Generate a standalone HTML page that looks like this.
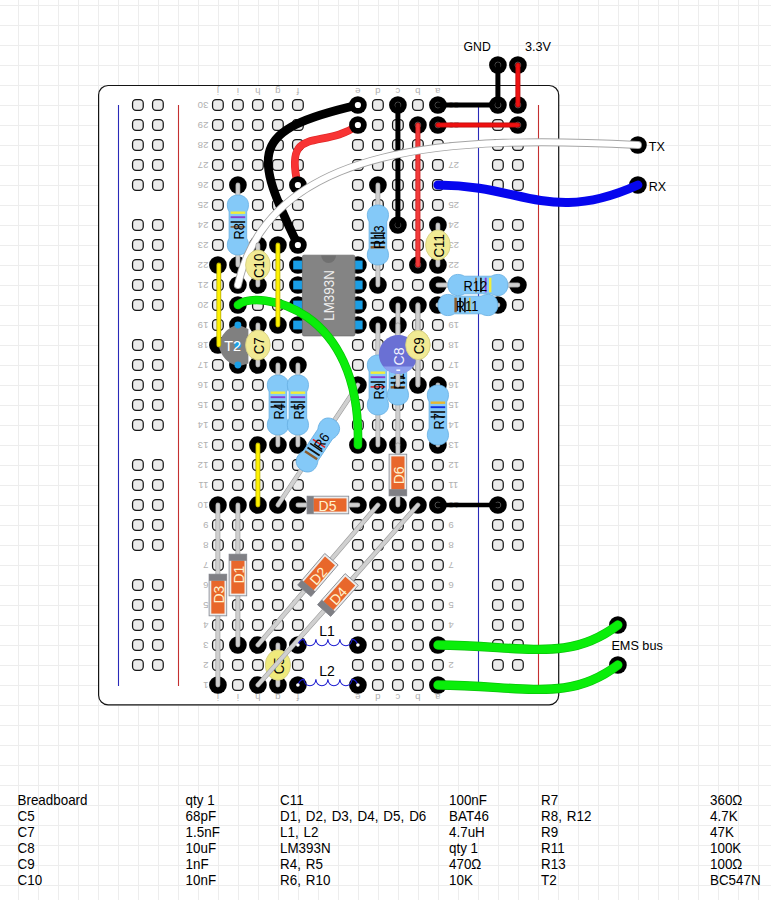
<!DOCTYPE html>
<html><head><meta charset="utf-8"><title>Breadboard</title>
<style>html,body{margin:0;padding:0;background:#fff;}body{width:771px;height:900px;overflow:hidden;font-family:"Liberation Sans",sans-serif;}svg{display:block}</style>
</head><body>
<svg width="771" height="900" viewBox="0 0 771 900">
<rect width="771" height="900" fill="#ffffff"/>
<path d="M18.5 0V900M38.5 0V900M58.5 0V900M78.5 0V900M98.5 0V900M118.5 0V900M138.5 0V900M158.5 0V900M178.5 0V900M198.5 0V900M218.5 0V900M238.5 0V900M258.5 0V900M278.5 0V900M298.5 0V900M318.5 0V900M338.5 0V900M358.5 0V900M378.5 0V900M398.5 0V900M418.5 0V900M438.5 0V900M458.5 0V900M478.5 0V900M498.5 0V900M518.5 0V900M538.5 0V900M558.5 0V900M578.5 0V900M598.5 0V900M618.5 0V900M638.5 0V900M658.5 0V900M678.5 0V900M698.5 0V900M718.5 0V900M738.5 0V900M758.5 0V900M778.5 0V900M0 5.5H771M0 25.5H771M0 45.5H771M0 65.5H771M0 85.5H771M0 105.5H771M0 125.5H771M0 145.5H771M0 165.5H771M0 185.5H771M0 205.5H771M0 225.5H771M0 245.5H771M0 265.5H771M0 285.5H771M0 305.5H771M0 325.5H771M0 345.5H771M0 365.5H771M0 385.5H771M0 405.5H771M0 425.5H771M0 445.5H771M0 465.5H771M0 485.5H771M0 505.5H771M0 525.5H771M0 545.5H771M0 565.5H771M0 585.5H771M0 605.5H771M0 625.5H771M0 645.5H771M0 665.5H771M0 685.5H771M0 705.5H771M0 725.5H771M0 745.5H771M0 765.5H771M0 785.5H771M0 805.5H771M0 825.5H771M0 845.5H771M0 865.5H771M0 885.5H771" stroke="#ededed" stroke-width="1" fill="none" shape-rendering="crispEdges"/>
<rect x="98.6" y="85.5" width="460.1" height="619.3" rx="9.5" ry="9.5" fill="#ffffff" stroke="#141414" stroke-width="1.2"/>
<path d="M118.5 105V686M478.5 105V686" stroke="#2a2ab8" stroke-width="1.1" fill="none"/>
<path d="M178.5 105V686M538.5 105V686" stroke="#c43030" stroke-width="1.1" fill="none"/>
<g transform="translate(-0.6 -0.5)">
<g fill="#ebebeb" stroke="#161616" stroke-width="1.25"><rect x="133.15" y="660.15" width="10.7" height="10.7" rx="3.5"/><rect x="133.15" y="640.15" width="10.7" height="10.7" rx="3.5"/><rect x="133.15" y="620.15" width="10.7" height="10.7" rx="3.5"/><rect x="133.15" y="600.15" width="10.7" height="10.7" rx="3.5"/><rect x="133.15" y="580.15" width="10.7" height="10.7" rx="3.5"/><rect x="133.15" y="540.15" width="10.7" height="10.7" rx="3.5"/><rect x="133.15" y="520.15" width="10.7" height="10.7" rx="3.5"/><rect x="133.15" y="500.15" width="10.7" height="10.7" rx="3.5"/><rect x="133.15" y="480.15" width="10.7" height="10.7" rx="3.5"/><rect x="133.15" y="460.15" width="10.7" height="10.7" rx="3.5"/><rect x="133.15" y="420.15" width="10.7" height="10.7" rx="3.5"/><rect x="133.15" y="400.15" width="10.7" height="10.7" rx="3.5"/><rect x="133.15" y="380.15" width="10.7" height="10.7" rx="3.5"/><rect x="133.15" y="360.15" width="10.7" height="10.7" rx="3.5"/><rect x="133.15" y="340.15" width="10.7" height="10.7" rx="3.5"/><rect x="133.15" y="300.15" width="10.7" height="10.7" rx="3.5"/><rect x="133.15" y="280.15" width="10.7" height="10.7" rx="3.5"/><rect x="133.15" y="260.15" width="10.7" height="10.7" rx="3.5"/><rect x="133.15" y="240.15" width="10.7" height="10.7" rx="3.5"/><rect x="133.15" y="220.15" width="10.7" height="10.7" rx="3.5"/><rect x="133.15" y="180.15" width="10.7" height="10.7" rx="3.5"/><rect x="133.15" y="160.15" width="10.7" height="10.7" rx="3.5"/><rect x="133.15" y="140.15" width="10.7" height="10.7" rx="3.5"/><rect x="133.15" y="120.15" width="10.7" height="10.7" rx="3.5"/><rect x="133.15" y="100.15" width="10.7" height="10.7" rx="3.5"/><rect x="153.15" y="660.15" width="10.7" height="10.7" rx="3.5"/><rect x="153.15" y="640.15" width="10.7" height="10.7" rx="3.5"/><rect x="153.15" y="620.15" width="10.7" height="10.7" rx="3.5"/><rect x="153.15" y="600.15" width="10.7" height="10.7" rx="3.5"/><rect x="153.15" y="580.15" width="10.7" height="10.7" rx="3.5"/><rect x="153.15" y="540.15" width="10.7" height="10.7" rx="3.5"/><rect x="153.15" y="520.15" width="10.7" height="10.7" rx="3.5"/><rect x="153.15" y="500.15" width="10.7" height="10.7" rx="3.5"/><rect x="153.15" y="480.15" width="10.7" height="10.7" rx="3.5"/><rect x="153.15" y="460.15" width="10.7" height="10.7" rx="3.5"/><rect x="153.15" y="420.15" width="10.7" height="10.7" rx="3.5"/><rect x="153.15" y="400.15" width="10.7" height="10.7" rx="3.5"/><rect x="153.15" y="380.15" width="10.7" height="10.7" rx="3.5"/><rect x="153.15" y="360.15" width="10.7" height="10.7" rx="3.5"/><rect x="153.15" y="340.15" width="10.7" height="10.7" rx="3.5"/><rect x="153.15" y="300.15" width="10.7" height="10.7" rx="3.5"/><rect x="153.15" y="280.15" width="10.7" height="10.7" rx="3.5"/><rect x="153.15" y="260.15" width="10.7" height="10.7" rx="3.5"/><rect x="153.15" y="240.15" width="10.7" height="10.7" rx="3.5"/><rect x="153.15" y="220.15" width="10.7" height="10.7" rx="3.5"/><rect x="153.15" y="180.15" width="10.7" height="10.7" rx="3.5"/><rect x="153.15" y="160.15" width="10.7" height="10.7" rx="3.5"/><rect x="153.15" y="140.15" width="10.7" height="10.7" rx="3.5"/><rect x="153.15" y="120.15" width="10.7" height="10.7" rx="3.5"/><rect x="153.15" y="100.15" width="10.7" height="10.7" rx="3.5"/><rect x="493.15" y="660.15" width="10.7" height="10.7" rx="3.5"/><rect x="493.15" y="640.15" width="10.7" height="10.7" rx="3.5"/><rect x="493.15" y="620.15" width="10.7" height="10.7" rx="3.5"/><rect x="493.15" y="600.15" width="10.7" height="10.7" rx="3.5"/><rect x="493.15" y="580.15" width="10.7" height="10.7" rx="3.5"/><rect x="493.15" y="540.15" width="10.7" height="10.7" rx="3.5"/><rect x="493.15" y="520.15" width="10.7" height="10.7" rx="3.5"/><rect x="493.15" y="500.15" width="10.7" height="10.7" rx="3.5"/><rect x="493.15" y="480.15" width="10.7" height="10.7" rx="3.5"/><rect x="493.15" y="460.15" width="10.7" height="10.7" rx="3.5"/><rect x="493.15" y="420.15" width="10.7" height="10.7" rx="3.5"/><rect x="493.15" y="400.15" width="10.7" height="10.7" rx="3.5"/><rect x="493.15" y="380.15" width="10.7" height="10.7" rx="3.5"/><rect x="493.15" y="360.15" width="10.7" height="10.7" rx="3.5"/><rect x="493.15" y="340.15" width="10.7" height="10.7" rx="3.5"/><rect x="493.15" y="300.15" width="10.7" height="10.7" rx="3.5"/><rect x="493.15" y="280.15" width="10.7" height="10.7" rx="3.5"/><rect x="493.15" y="260.15" width="10.7" height="10.7" rx="3.5"/><rect x="493.15" y="240.15" width="10.7" height="10.7" rx="3.5"/><rect x="493.15" y="220.15" width="10.7" height="10.7" rx="3.5"/><rect x="493.15" y="180.15" width="10.7" height="10.7" rx="3.5"/><rect x="493.15" y="160.15" width="10.7" height="10.7" rx="3.5"/><rect x="493.15" y="140.15" width="10.7" height="10.7" rx="3.5"/><rect x="493.15" y="120.15" width="10.7" height="10.7" rx="3.5"/><rect x="493.15" y="100.15" width="10.7" height="10.7" rx="3.5"/><rect x="513.15" y="660.15" width="10.7" height="10.7" rx="3.5"/><rect x="513.15" y="640.15" width="10.7" height="10.7" rx="3.5"/><rect x="513.15" y="620.15" width="10.7" height="10.7" rx="3.5"/><rect x="513.15" y="600.15" width="10.7" height="10.7" rx="3.5"/><rect x="513.15" y="580.15" width="10.7" height="10.7" rx="3.5"/><rect x="513.15" y="540.15" width="10.7" height="10.7" rx="3.5"/><rect x="513.15" y="520.15" width="10.7" height="10.7" rx="3.5"/><rect x="513.15" y="500.15" width="10.7" height="10.7" rx="3.5"/><rect x="513.15" y="480.15" width="10.7" height="10.7" rx="3.5"/><rect x="513.15" y="460.15" width="10.7" height="10.7" rx="3.5"/><rect x="513.15" y="420.15" width="10.7" height="10.7" rx="3.5"/><rect x="513.15" y="400.15" width="10.7" height="10.7" rx="3.5"/><rect x="513.15" y="380.15" width="10.7" height="10.7" rx="3.5"/><rect x="513.15" y="360.15" width="10.7" height="10.7" rx="3.5"/><rect x="513.15" y="340.15" width="10.7" height="10.7" rx="3.5"/><rect x="513.15" y="300.15" width="10.7" height="10.7" rx="3.5"/><rect x="513.15" y="280.15" width="10.7" height="10.7" rx="3.5"/><rect x="513.15" y="260.15" width="10.7" height="10.7" rx="3.5"/><rect x="513.15" y="240.15" width="10.7" height="10.7" rx="3.5"/><rect x="513.15" y="220.15" width="10.7" height="10.7" rx="3.5"/><rect x="513.15" y="180.15" width="10.7" height="10.7" rx="3.5"/><rect x="513.15" y="160.15" width="10.7" height="10.7" rx="3.5"/><rect x="513.15" y="140.15" width="10.7" height="10.7" rx="3.5"/><rect x="513.15" y="120.15" width="10.7" height="10.7" rx="3.5"/><rect x="513.15" y="100.15" width="10.7" height="10.7" rx="3.5"/><rect x="213.15" y="680.15" width="10.7" height="10.7" rx="3.5"/><rect x="213.15" y="660.15" width="10.7" height="10.7" rx="3.5"/><rect x="213.15" y="640.15" width="10.7" height="10.7" rx="3.5"/><rect x="213.15" y="620.15" width="10.7" height="10.7" rx="3.5"/><rect x="213.15" y="600.15" width="10.7" height="10.7" rx="3.5"/><rect x="213.15" y="580.15" width="10.7" height="10.7" rx="3.5"/><rect x="213.15" y="560.15" width="10.7" height="10.7" rx="3.5"/><rect x="213.15" y="540.15" width="10.7" height="10.7" rx="3.5"/><rect x="213.15" y="520.15" width="10.7" height="10.7" rx="3.5"/><rect x="213.15" y="500.15" width="10.7" height="10.7" rx="3.5"/><rect x="213.15" y="480.15" width="10.7" height="10.7" rx="3.5"/><rect x="213.15" y="460.15" width="10.7" height="10.7" rx="3.5"/><rect x="213.15" y="440.15" width="10.7" height="10.7" rx="3.5"/><rect x="213.15" y="420.15" width="10.7" height="10.7" rx="3.5"/><rect x="213.15" y="400.15" width="10.7" height="10.7" rx="3.5"/><rect x="213.15" y="380.15" width="10.7" height="10.7" rx="3.5"/><rect x="213.15" y="360.15" width="10.7" height="10.7" rx="3.5"/><rect x="213.15" y="340.15" width="10.7" height="10.7" rx="3.5"/><rect x="213.15" y="320.15" width="10.7" height="10.7" rx="3.5"/><rect x="213.15" y="300.15" width="10.7" height="10.7" rx="3.5"/><rect x="213.15" y="280.15" width="10.7" height="10.7" rx="3.5"/><rect x="213.15" y="260.15" width="10.7" height="10.7" rx="3.5"/><rect x="213.15" y="240.15" width="10.7" height="10.7" rx="3.5"/><rect x="213.15" y="220.15" width="10.7" height="10.7" rx="3.5"/><rect x="213.15" y="200.15" width="10.7" height="10.7" rx="3.5"/><rect x="213.15" y="180.15" width="10.7" height="10.7" rx="3.5"/><rect x="213.15" y="160.15" width="10.7" height="10.7" rx="3.5"/><rect x="213.15" y="140.15" width="10.7" height="10.7" rx="3.5"/><rect x="213.15" y="120.15" width="10.7" height="10.7" rx="3.5"/><rect x="213.15" y="100.15" width="10.7" height="10.7" rx="3.5"/><rect x="233.15" y="680.15" width="10.7" height="10.7" rx="3.5"/><rect x="233.15" y="660.15" width="10.7" height="10.7" rx="3.5"/><rect x="233.15" y="640.15" width="10.7" height="10.7" rx="3.5"/><rect x="233.15" y="620.15" width="10.7" height="10.7" rx="3.5"/><rect x="233.15" y="600.15" width="10.7" height="10.7" rx="3.5"/><rect x="233.15" y="580.15" width="10.7" height="10.7" rx="3.5"/><rect x="233.15" y="560.15" width="10.7" height="10.7" rx="3.5"/><rect x="233.15" y="540.15" width="10.7" height="10.7" rx="3.5"/><rect x="233.15" y="520.15" width="10.7" height="10.7" rx="3.5"/><rect x="233.15" y="500.15" width="10.7" height="10.7" rx="3.5"/><rect x="233.15" y="480.15" width="10.7" height="10.7" rx="3.5"/><rect x="233.15" y="460.15" width="10.7" height="10.7" rx="3.5"/><rect x="233.15" y="440.15" width="10.7" height="10.7" rx="3.5"/><rect x="233.15" y="420.15" width="10.7" height="10.7" rx="3.5"/><rect x="233.15" y="400.15" width="10.7" height="10.7" rx="3.5"/><rect x="233.15" y="380.15" width="10.7" height="10.7" rx="3.5"/><rect x="233.15" y="360.15" width="10.7" height="10.7" rx="3.5"/><rect x="233.15" y="340.15" width="10.7" height="10.7" rx="3.5"/><rect x="233.15" y="320.15" width="10.7" height="10.7" rx="3.5"/><rect x="233.15" y="300.15" width="10.7" height="10.7" rx="3.5"/><rect x="233.15" y="280.15" width="10.7" height="10.7" rx="3.5"/><rect x="233.15" y="260.15" width="10.7" height="10.7" rx="3.5"/><rect x="233.15" y="240.15" width="10.7" height="10.7" rx="3.5"/><rect x="233.15" y="220.15" width="10.7" height="10.7" rx="3.5"/><rect x="233.15" y="200.15" width="10.7" height="10.7" rx="3.5"/><rect x="233.15" y="180.15" width="10.7" height="10.7" rx="3.5"/><rect x="233.15" y="160.15" width="10.7" height="10.7" rx="3.5"/><rect x="233.15" y="140.15" width="10.7" height="10.7" rx="3.5"/><rect x="233.15" y="120.15" width="10.7" height="10.7" rx="3.5"/><rect x="233.15" y="100.15" width="10.7" height="10.7" rx="3.5"/><rect x="253.15" y="680.15" width="10.7" height="10.7" rx="3.5"/><rect x="253.15" y="660.15" width="10.7" height="10.7" rx="3.5"/><rect x="253.15" y="640.15" width="10.7" height="10.7" rx="3.5"/><rect x="253.15" y="620.15" width="10.7" height="10.7" rx="3.5"/><rect x="253.15" y="600.15" width="10.7" height="10.7" rx="3.5"/><rect x="253.15" y="580.15" width="10.7" height="10.7" rx="3.5"/><rect x="253.15" y="560.15" width="10.7" height="10.7" rx="3.5"/><rect x="253.15" y="540.15" width="10.7" height="10.7" rx="3.5"/><rect x="253.15" y="520.15" width="10.7" height="10.7" rx="3.5"/><rect x="253.15" y="500.15" width="10.7" height="10.7" rx="3.5"/><rect x="253.15" y="480.15" width="10.7" height="10.7" rx="3.5"/><rect x="253.15" y="460.15" width="10.7" height="10.7" rx="3.5"/><rect x="253.15" y="440.15" width="10.7" height="10.7" rx="3.5"/><rect x="253.15" y="420.15" width="10.7" height="10.7" rx="3.5"/><rect x="253.15" y="400.15" width="10.7" height="10.7" rx="3.5"/><rect x="253.15" y="380.15" width="10.7" height="10.7" rx="3.5"/><rect x="253.15" y="360.15" width="10.7" height="10.7" rx="3.5"/><rect x="253.15" y="340.15" width="10.7" height="10.7" rx="3.5"/><rect x="253.15" y="320.15" width="10.7" height="10.7" rx="3.5"/><rect x="253.15" y="300.15" width="10.7" height="10.7" rx="3.5"/><rect x="253.15" y="280.15" width="10.7" height="10.7" rx="3.5"/><rect x="253.15" y="260.15" width="10.7" height="10.7" rx="3.5"/><rect x="253.15" y="240.15" width="10.7" height="10.7" rx="3.5"/><rect x="253.15" y="220.15" width="10.7" height="10.7" rx="3.5"/><rect x="253.15" y="200.15" width="10.7" height="10.7" rx="3.5"/><rect x="253.15" y="180.15" width="10.7" height="10.7" rx="3.5"/><rect x="253.15" y="160.15" width="10.7" height="10.7" rx="3.5"/><rect x="253.15" y="140.15" width="10.7" height="10.7" rx="3.5"/><rect x="253.15" y="120.15" width="10.7" height="10.7" rx="3.5"/><rect x="253.15" y="100.15" width="10.7" height="10.7" rx="3.5"/><rect x="273.15" y="680.15" width="10.7" height="10.7" rx="3.5"/><rect x="273.15" y="660.15" width="10.7" height="10.7" rx="3.5"/><rect x="273.15" y="640.15" width="10.7" height="10.7" rx="3.5"/><rect x="273.15" y="620.15" width="10.7" height="10.7" rx="3.5"/><rect x="273.15" y="600.15" width="10.7" height="10.7" rx="3.5"/><rect x="273.15" y="580.15" width="10.7" height="10.7" rx="3.5"/><rect x="273.15" y="560.15" width="10.7" height="10.7" rx="3.5"/><rect x="273.15" y="540.15" width="10.7" height="10.7" rx="3.5"/><rect x="273.15" y="520.15" width="10.7" height="10.7" rx="3.5"/><rect x="273.15" y="500.15" width="10.7" height="10.7" rx="3.5"/><rect x="273.15" y="480.15" width="10.7" height="10.7" rx="3.5"/><rect x="273.15" y="460.15" width="10.7" height="10.7" rx="3.5"/><rect x="273.15" y="440.15" width="10.7" height="10.7" rx="3.5"/><rect x="273.15" y="420.15" width="10.7" height="10.7" rx="3.5"/><rect x="273.15" y="400.15" width="10.7" height="10.7" rx="3.5"/><rect x="273.15" y="380.15" width="10.7" height="10.7" rx="3.5"/><rect x="273.15" y="360.15" width="10.7" height="10.7" rx="3.5"/><rect x="273.15" y="340.15" width="10.7" height="10.7" rx="3.5"/><rect x="273.15" y="320.15" width="10.7" height="10.7" rx="3.5"/><rect x="273.15" y="300.15" width="10.7" height="10.7" rx="3.5"/><rect x="273.15" y="280.15" width="10.7" height="10.7" rx="3.5"/><rect x="273.15" y="260.15" width="10.7" height="10.7" rx="3.5"/><rect x="273.15" y="240.15" width="10.7" height="10.7" rx="3.5"/><rect x="273.15" y="220.15" width="10.7" height="10.7" rx="3.5"/><rect x="273.15" y="200.15" width="10.7" height="10.7" rx="3.5"/><rect x="273.15" y="180.15" width="10.7" height="10.7" rx="3.5"/><rect x="273.15" y="160.15" width="10.7" height="10.7" rx="3.5"/><rect x="273.15" y="140.15" width="10.7" height="10.7" rx="3.5"/><rect x="273.15" y="120.15" width="10.7" height="10.7" rx="3.5"/><rect x="273.15" y="100.15" width="10.7" height="10.7" rx="3.5"/><rect x="293.15" y="680.15" width="10.7" height="10.7" rx="3.5"/><rect x="293.15" y="660.15" width="10.7" height="10.7" rx="3.5"/><rect x="293.15" y="640.15" width="10.7" height="10.7" rx="3.5"/><rect x="293.15" y="620.15" width="10.7" height="10.7" rx="3.5"/><rect x="293.15" y="600.15" width="10.7" height="10.7" rx="3.5"/><rect x="293.15" y="580.15" width="10.7" height="10.7" rx="3.5"/><rect x="293.15" y="560.15" width="10.7" height="10.7" rx="3.5"/><rect x="293.15" y="540.15" width="10.7" height="10.7" rx="3.5"/><rect x="293.15" y="520.15" width="10.7" height="10.7" rx="3.5"/><rect x="293.15" y="500.15" width="10.7" height="10.7" rx="3.5"/><rect x="293.15" y="480.15" width="10.7" height="10.7" rx="3.5"/><rect x="293.15" y="460.15" width="10.7" height="10.7" rx="3.5"/><rect x="293.15" y="440.15" width="10.7" height="10.7" rx="3.5"/><rect x="293.15" y="420.15" width="10.7" height="10.7" rx="3.5"/><rect x="293.15" y="400.15" width="10.7" height="10.7" rx="3.5"/><rect x="293.15" y="380.15" width="10.7" height="10.7" rx="3.5"/><rect x="293.15" y="360.15" width="10.7" height="10.7" rx="3.5"/><rect x="293.15" y="340.15" width="10.7" height="10.7" rx="3.5"/><rect x="293.15" y="320.15" width="10.7" height="10.7" rx="3.5"/><rect x="293.15" y="300.15" width="10.7" height="10.7" rx="3.5"/><rect x="293.15" y="280.15" width="10.7" height="10.7" rx="3.5"/><rect x="293.15" y="260.15" width="10.7" height="10.7" rx="3.5"/><rect x="293.15" y="240.15" width="10.7" height="10.7" rx="3.5"/><rect x="293.15" y="220.15" width="10.7" height="10.7" rx="3.5"/><rect x="293.15" y="200.15" width="10.7" height="10.7" rx="3.5"/><rect x="293.15" y="180.15" width="10.7" height="10.7" rx="3.5"/><rect x="293.15" y="160.15" width="10.7" height="10.7" rx="3.5"/><rect x="293.15" y="140.15" width="10.7" height="10.7" rx="3.5"/><rect x="293.15" y="120.15" width="10.7" height="10.7" rx="3.5"/><rect x="293.15" y="100.15" width="10.7" height="10.7" rx="3.5"/><rect x="353.15" y="680.15" width="10.7" height="10.7" rx="3.5"/><rect x="353.15" y="660.15" width="10.7" height="10.7" rx="3.5"/><rect x="353.15" y="640.15" width="10.7" height="10.7" rx="3.5"/><rect x="353.15" y="620.15" width="10.7" height="10.7" rx="3.5"/><rect x="353.15" y="600.15" width="10.7" height="10.7" rx="3.5"/><rect x="353.15" y="580.15" width="10.7" height="10.7" rx="3.5"/><rect x="353.15" y="560.15" width="10.7" height="10.7" rx="3.5"/><rect x="353.15" y="540.15" width="10.7" height="10.7" rx="3.5"/><rect x="353.15" y="520.15" width="10.7" height="10.7" rx="3.5"/><rect x="353.15" y="500.15" width="10.7" height="10.7" rx="3.5"/><rect x="353.15" y="480.15" width="10.7" height="10.7" rx="3.5"/><rect x="353.15" y="460.15" width="10.7" height="10.7" rx="3.5"/><rect x="353.15" y="440.15" width="10.7" height="10.7" rx="3.5"/><rect x="353.15" y="420.15" width="10.7" height="10.7" rx="3.5"/><rect x="353.15" y="400.15" width="10.7" height="10.7" rx="3.5"/><rect x="353.15" y="380.15" width="10.7" height="10.7" rx="3.5"/><rect x="353.15" y="360.15" width="10.7" height="10.7" rx="3.5"/><rect x="353.15" y="340.15" width="10.7" height="10.7" rx="3.5"/><rect x="353.15" y="320.15" width="10.7" height="10.7" rx="3.5"/><rect x="353.15" y="300.15" width="10.7" height="10.7" rx="3.5"/><rect x="353.15" y="280.15" width="10.7" height="10.7" rx="3.5"/><rect x="353.15" y="260.15" width="10.7" height="10.7" rx="3.5"/><rect x="353.15" y="240.15" width="10.7" height="10.7" rx="3.5"/><rect x="353.15" y="220.15" width="10.7" height="10.7" rx="3.5"/><rect x="353.15" y="200.15" width="10.7" height="10.7" rx="3.5"/><rect x="353.15" y="180.15" width="10.7" height="10.7" rx="3.5"/><rect x="353.15" y="160.15" width="10.7" height="10.7" rx="3.5"/><rect x="353.15" y="140.15" width="10.7" height="10.7" rx="3.5"/><rect x="353.15" y="120.15" width="10.7" height="10.7" rx="3.5"/><rect x="353.15" y="100.15" width="10.7" height="10.7" rx="3.5"/><rect x="373.15" y="680.15" width="10.7" height="10.7" rx="3.5"/><rect x="373.15" y="660.15" width="10.7" height="10.7" rx="3.5"/><rect x="373.15" y="640.15" width="10.7" height="10.7" rx="3.5"/><rect x="373.15" y="620.15" width="10.7" height="10.7" rx="3.5"/><rect x="373.15" y="600.15" width="10.7" height="10.7" rx="3.5"/><rect x="373.15" y="580.15" width="10.7" height="10.7" rx="3.5"/><rect x="373.15" y="560.15" width="10.7" height="10.7" rx="3.5"/><rect x="373.15" y="540.15" width="10.7" height="10.7" rx="3.5"/><rect x="373.15" y="520.15" width="10.7" height="10.7" rx="3.5"/><rect x="373.15" y="500.15" width="10.7" height="10.7" rx="3.5"/><rect x="373.15" y="480.15" width="10.7" height="10.7" rx="3.5"/><rect x="373.15" y="460.15" width="10.7" height="10.7" rx="3.5"/><rect x="373.15" y="440.15" width="10.7" height="10.7" rx="3.5"/><rect x="373.15" y="420.15" width="10.7" height="10.7" rx="3.5"/><rect x="373.15" y="400.15" width="10.7" height="10.7" rx="3.5"/><rect x="373.15" y="380.15" width="10.7" height="10.7" rx="3.5"/><rect x="373.15" y="360.15" width="10.7" height="10.7" rx="3.5"/><rect x="373.15" y="340.15" width="10.7" height="10.7" rx="3.5"/><rect x="373.15" y="320.15" width="10.7" height="10.7" rx="3.5"/><rect x="373.15" y="300.15" width="10.7" height="10.7" rx="3.5"/><rect x="373.15" y="280.15" width="10.7" height="10.7" rx="3.5"/><rect x="373.15" y="260.15" width="10.7" height="10.7" rx="3.5"/><rect x="373.15" y="240.15" width="10.7" height="10.7" rx="3.5"/><rect x="373.15" y="220.15" width="10.7" height="10.7" rx="3.5"/><rect x="373.15" y="200.15" width="10.7" height="10.7" rx="3.5"/><rect x="373.15" y="180.15" width="10.7" height="10.7" rx="3.5"/><rect x="373.15" y="160.15" width="10.7" height="10.7" rx="3.5"/><rect x="373.15" y="140.15" width="10.7" height="10.7" rx="3.5"/><rect x="373.15" y="120.15" width="10.7" height="10.7" rx="3.5"/><rect x="373.15" y="100.15" width="10.7" height="10.7" rx="3.5"/><rect x="393.15" y="680.15" width="10.7" height="10.7" rx="3.5"/><rect x="393.15" y="660.15" width="10.7" height="10.7" rx="3.5"/><rect x="393.15" y="640.15" width="10.7" height="10.7" rx="3.5"/><rect x="393.15" y="620.15" width="10.7" height="10.7" rx="3.5"/><rect x="393.15" y="600.15" width="10.7" height="10.7" rx="3.5"/><rect x="393.15" y="580.15" width="10.7" height="10.7" rx="3.5"/><rect x="393.15" y="560.15" width="10.7" height="10.7" rx="3.5"/><rect x="393.15" y="540.15" width="10.7" height="10.7" rx="3.5"/><rect x="393.15" y="520.15" width="10.7" height="10.7" rx="3.5"/><rect x="393.15" y="500.15" width="10.7" height="10.7" rx="3.5"/><rect x="393.15" y="480.15" width="10.7" height="10.7" rx="3.5"/><rect x="393.15" y="460.15" width="10.7" height="10.7" rx="3.5"/><rect x="393.15" y="440.15" width="10.7" height="10.7" rx="3.5"/><rect x="393.15" y="420.15" width="10.7" height="10.7" rx="3.5"/><rect x="393.15" y="400.15" width="10.7" height="10.7" rx="3.5"/><rect x="393.15" y="380.15" width="10.7" height="10.7" rx="3.5"/><rect x="393.15" y="360.15" width="10.7" height="10.7" rx="3.5"/><rect x="393.15" y="340.15" width="10.7" height="10.7" rx="3.5"/><rect x="393.15" y="320.15" width="10.7" height="10.7" rx="3.5"/><rect x="393.15" y="300.15" width="10.7" height="10.7" rx="3.5"/><rect x="393.15" y="280.15" width="10.7" height="10.7" rx="3.5"/><rect x="393.15" y="260.15" width="10.7" height="10.7" rx="3.5"/><rect x="393.15" y="240.15" width="10.7" height="10.7" rx="3.5"/><rect x="393.15" y="220.15" width="10.7" height="10.7" rx="3.5"/><rect x="393.15" y="200.15" width="10.7" height="10.7" rx="3.5"/><rect x="393.15" y="180.15" width="10.7" height="10.7" rx="3.5"/><rect x="393.15" y="160.15" width="10.7" height="10.7" rx="3.5"/><rect x="393.15" y="140.15" width="10.7" height="10.7" rx="3.5"/><rect x="393.15" y="120.15" width="10.7" height="10.7" rx="3.5"/><rect x="393.15" y="100.15" width="10.7" height="10.7" rx="3.5"/><rect x="413.15" y="680.15" width="10.7" height="10.7" rx="3.5"/><rect x="413.15" y="660.15" width="10.7" height="10.7" rx="3.5"/><rect x="413.15" y="640.15" width="10.7" height="10.7" rx="3.5"/><rect x="413.15" y="620.15" width="10.7" height="10.7" rx="3.5"/><rect x="413.15" y="600.15" width="10.7" height="10.7" rx="3.5"/><rect x="413.15" y="580.15" width="10.7" height="10.7" rx="3.5"/><rect x="413.15" y="560.15" width="10.7" height="10.7" rx="3.5"/><rect x="413.15" y="540.15" width="10.7" height="10.7" rx="3.5"/><rect x="413.15" y="520.15" width="10.7" height="10.7" rx="3.5"/><rect x="413.15" y="500.15" width="10.7" height="10.7" rx="3.5"/><rect x="413.15" y="480.15" width="10.7" height="10.7" rx="3.5"/><rect x="413.15" y="460.15" width="10.7" height="10.7" rx="3.5"/><rect x="413.15" y="440.15" width="10.7" height="10.7" rx="3.5"/><rect x="413.15" y="420.15" width="10.7" height="10.7" rx="3.5"/><rect x="413.15" y="400.15" width="10.7" height="10.7" rx="3.5"/><rect x="413.15" y="380.15" width="10.7" height="10.7" rx="3.5"/><rect x="413.15" y="360.15" width="10.7" height="10.7" rx="3.5"/><rect x="413.15" y="340.15" width="10.7" height="10.7" rx="3.5"/><rect x="413.15" y="320.15" width="10.7" height="10.7" rx="3.5"/><rect x="413.15" y="300.15" width="10.7" height="10.7" rx="3.5"/><rect x="413.15" y="280.15" width="10.7" height="10.7" rx="3.5"/><rect x="413.15" y="260.15" width="10.7" height="10.7" rx="3.5"/><rect x="413.15" y="240.15" width="10.7" height="10.7" rx="3.5"/><rect x="413.15" y="220.15" width="10.7" height="10.7" rx="3.5"/><rect x="413.15" y="200.15" width="10.7" height="10.7" rx="3.5"/><rect x="413.15" y="180.15" width="10.7" height="10.7" rx="3.5"/><rect x="413.15" y="160.15" width="10.7" height="10.7" rx="3.5"/><rect x="413.15" y="140.15" width="10.7" height="10.7" rx="3.5"/><rect x="413.15" y="120.15" width="10.7" height="10.7" rx="3.5"/><rect x="413.15" y="100.15" width="10.7" height="10.7" rx="3.5"/><rect x="433.15" y="680.15" width="10.7" height="10.7" rx="3.5"/><rect x="433.15" y="660.15" width="10.7" height="10.7" rx="3.5"/><rect x="433.15" y="640.15" width="10.7" height="10.7" rx="3.5"/><rect x="433.15" y="620.15" width="10.7" height="10.7" rx="3.5"/><rect x="433.15" y="600.15" width="10.7" height="10.7" rx="3.5"/><rect x="433.15" y="580.15" width="10.7" height="10.7" rx="3.5"/><rect x="433.15" y="560.15" width="10.7" height="10.7" rx="3.5"/><rect x="433.15" y="540.15" width="10.7" height="10.7" rx="3.5"/><rect x="433.15" y="520.15" width="10.7" height="10.7" rx="3.5"/><rect x="433.15" y="500.15" width="10.7" height="10.7" rx="3.5"/><rect x="433.15" y="480.15" width="10.7" height="10.7" rx="3.5"/><rect x="433.15" y="460.15" width="10.7" height="10.7" rx="3.5"/><rect x="433.15" y="440.15" width="10.7" height="10.7" rx="3.5"/><rect x="433.15" y="420.15" width="10.7" height="10.7" rx="3.5"/><rect x="433.15" y="400.15" width="10.7" height="10.7" rx="3.5"/><rect x="433.15" y="380.15" width="10.7" height="10.7" rx="3.5"/><rect x="433.15" y="360.15" width="10.7" height="10.7" rx="3.5"/><rect x="433.15" y="340.15" width="10.7" height="10.7" rx="3.5"/><rect x="433.15" y="320.15" width="10.7" height="10.7" rx="3.5"/><rect x="433.15" y="300.15" width="10.7" height="10.7" rx="3.5"/><rect x="433.15" y="280.15" width="10.7" height="10.7" rx="3.5"/><rect x="433.15" y="260.15" width="10.7" height="10.7" rx="3.5"/><rect x="433.15" y="240.15" width="10.7" height="10.7" rx="3.5"/><rect x="433.15" y="220.15" width="10.7" height="10.7" rx="3.5"/><rect x="433.15" y="200.15" width="10.7" height="10.7" rx="3.5"/><rect x="433.15" y="180.15" width="10.7" height="10.7" rx="3.5"/><rect x="433.15" y="160.15" width="10.7" height="10.7" rx="3.5"/><rect x="433.15" y="140.15" width="10.7" height="10.7" rx="3.5"/><rect x="433.15" y="120.15" width="10.7" height="10.7" rx="3.5"/><rect x="433.15" y="100.15" width="10.7" height="10.7" rx="3.5"/></g>
<g font-family="Liberation Sans, sans-serif" font-size="9.6" fill="#b0b0b0" text-anchor="middle"><text transform="translate(209.0 685.5) rotate(180)" y="3.4" text-anchor="start">1</text><text transform="translate(448.9 685.5) rotate(180)" y="3.4" text-anchor="end">1</text><text transform="translate(209.0 665.5) rotate(180)" y="3.4" text-anchor="start">2</text><text transform="translate(448.9 665.5) rotate(180)" y="3.4" text-anchor="end">2</text><text transform="translate(209.0 645.5) rotate(180)" y="3.4" text-anchor="start">3</text><text transform="translate(448.9 645.5) rotate(180)" y="3.4" text-anchor="end">3</text><text transform="translate(209.0 625.5) rotate(180)" y="3.4" text-anchor="start">4</text><text transform="translate(448.9 625.5) rotate(180)" y="3.4" text-anchor="end">4</text><text transform="translate(209.0 605.5) rotate(180)" y="3.4" text-anchor="start">5</text><text transform="translate(448.9 605.5) rotate(180)" y="3.4" text-anchor="end">5</text><text transform="translate(209.0 585.5) rotate(180)" y="3.4" text-anchor="start">6</text><text transform="translate(448.9 585.5) rotate(180)" y="3.4" text-anchor="end">6</text><text transform="translate(209.0 565.5) rotate(180)" y="3.4" text-anchor="start">7</text><text transform="translate(448.9 565.5) rotate(180)" y="3.4" text-anchor="end">7</text><text transform="translate(209.0 545.5) rotate(180)" y="3.4" text-anchor="start">8</text><text transform="translate(448.9 545.5) rotate(180)" y="3.4" text-anchor="end">8</text><text transform="translate(209.0 525.5) rotate(180)" y="3.4" text-anchor="start">9</text><text transform="translate(448.9 525.5) rotate(180)" y="3.4" text-anchor="end">9</text><text transform="translate(209.0 505.5) rotate(180)" y="3.4" text-anchor="start">10</text><text transform="translate(448.9 505.5) rotate(180)" y="3.4" text-anchor="end">10</text><text transform="translate(209.0 485.5) rotate(180)" y="3.4" text-anchor="start">11</text><text transform="translate(448.9 485.5) rotate(180)" y="3.4" text-anchor="end">11</text><text transform="translate(209.0 465.5) rotate(180)" y="3.4" text-anchor="start">12</text><text transform="translate(448.9 465.5) rotate(180)" y="3.4" text-anchor="end">12</text><text transform="translate(209.0 445.5) rotate(180)" y="3.4" text-anchor="start">13</text><text transform="translate(448.9 445.5) rotate(180)" y="3.4" text-anchor="end">13</text><text transform="translate(209.0 425.5) rotate(180)" y="3.4" text-anchor="start">14</text><text transform="translate(448.9 425.5) rotate(180)" y="3.4" text-anchor="end">14</text><text transform="translate(209.0 405.5) rotate(180)" y="3.4" text-anchor="start">15</text><text transform="translate(448.9 405.5) rotate(180)" y="3.4" text-anchor="end">15</text><text transform="translate(209.0 385.5) rotate(180)" y="3.4" text-anchor="start">16</text><text transform="translate(448.9 385.5) rotate(180)" y="3.4" text-anchor="end">16</text><text transform="translate(209.0 365.5) rotate(180)" y="3.4" text-anchor="start">17</text><text transform="translate(448.9 365.5) rotate(180)" y="3.4" text-anchor="end">17</text><text transform="translate(209.0 345.5) rotate(180)" y="3.4" text-anchor="start">18</text><text transform="translate(448.9 345.5) rotate(180)" y="3.4" text-anchor="end">18</text><text transform="translate(209.0 325.5) rotate(180)" y="3.4" text-anchor="start">19</text><text transform="translate(448.9 325.5) rotate(180)" y="3.4" text-anchor="end">19</text><text transform="translate(209.0 305.5) rotate(180)" y="3.4" text-anchor="start">20</text><text transform="translate(448.9 305.5) rotate(180)" y="3.4" text-anchor="end">20</text><text transform="translate(209.0 285.5) rotate(180)" y="3.4" text-anchor="start">21</text><text transform="translate(448.9 285.5) rotate(180)" y="3.4" text-anchor="end">21</text><text transform="translate(209.0 265.5) rotate(180)" y="3.4" text-anchor="start">22</text><text transform="translate(448.9 265.5) rotate(180)" y="3.4" text-anchor="end">22</text><text transform="translate(209.0 245.5) rotate(180)" y="3.4" text-anchor="start">23</text><text transform="translate(448.9 245.5) rotate(180)" y="3.4" text-anchor="end">23</text><text transform="translate(209.0 225.5) rotate(180)" y="3.4" text-anchor="start">24</text><text transform="translate(448.9 225.5) rotate(180)" y="3.4" text-anchor="end">24</text><text transform="translate(209.0 205.5) rotate(180)" y="3.4" text-anchor="start">25</text><text transform="translate(448.9 205.5) rotate(180)" y="3.4" text-anchor="end">25</text><text transform="translate(209.0 185.5) rotate(180)" y="3.4" text-anchor="start">26</text><text transform="translate(448.9 185.5) rotate(180)" y="3.4" text-anchor="end">26</text><text transform="translate(209.0 165.5) rotate(180)" y="3.4" text-anchor="start">27</text><text transform="translate(448.9 165.5) rotate(180)" y="3.4" text-anchor="end">27</text><text transform="translate(209.0 145.5) rotate(180)" y="3.4" text-anchor="start">28</text><text transform="translate(448.9 145.5) rotate(180)" y="3.4" text-anchor="end">28</text><text transform="translate(209.0 125.5) rotate(180)" y="3.4" text-anchor="start">29</text><text transform="translate(448.9 125.5) rotate(180)" y="3.4" text-anchor="end">29</text><text transform="translate(209.0 105.5) rotate(180)" y="3.4" text-anchor="start">30</text><text transform="translate(448.9 105.5) rotate(180)" y="3.4" text-anchor="end">30</text><text transform="translate(218.5 91.3) rotate(180)" y="2.6">j</text><text transform="translate(218.5 697.2) rotate(180)" y="2.6">j</text><text transform="translate(238.5 91.3) rotate(180)" y="2.6">i</text><text transform="translate(238.5 697.2) rotate(180)" y="2.6">i</text><text transform="translate(258.5 91.3) rotate(180)" y="2.6">h</text><text transform="translate(258.5 697.2) rotate(180)" y="2.6">h</text><text transform="translate(278.5 91.3) rotate(180)" y="2.6">g</text><text transform="translate(278.5 697.2) rotate(180)" y="2.6">g</text><text transform="translate(298.5 91.3) rotate(180)" y="2.6">f</text><text transform="translate(298.5 697.2) rotate(180)" y="2.6">f</text><text transform="translate(358.5 91.3) rotate(180)" y="2.6">e</text><text transform="translate(358.5 697.2) rotate(180)" y="2.6">e</text><text transform="translate(378.5 91.3) rotate(180)" y="2.6">d</text><text transform="translate(378.5 697.2) rotate(180)" y="2.6">d</text><text transform="translate(398.5 91.3) rotate(180)" y="2.6">c</text><text transform="translate(398.5 697.2) rotate(180)" y="2.6">c</text><text transform="translate(418.5 91.3) rotate(180)" y="2.6">b</text><text transform="translate(418.5 697.2) rotate(180)" y="2.6">b</text><text transform="translate(438.5 91.3) rotate(180)" y="2.6">a</text><text transform="translate(438.5 697.2) rotate(180)" y="2.6">a</text></g>
<path d="M358.5 105.5C249.3 130.7 253.4 152.7 298.5 245.5" stroke="#000" stroke-width="8.7" stroke-linecap="round" fill="none"/>
<path d="M358.5 125.5C323.7 151.5 283.7 123.5 298.5 185.5" stroke="#e02828" stroke-width="7.8" stroke-linecap="round" fill="none"/>
<path d="M358.5 125.5C323.7 151.5 283.7 123.5 298.5 185.5" stroke="#f83434" stroke-width="6.4" stroke-linecap="round" fill="none"/>
<circle cx="358.5" cy="105.5" r="8.85" fill="#000"/><circle cx="398.5" cy="105.5" r="8.85" fill="#000"/><circle cx="438.5" cy="105.5" r="8.85" fill="#000"/><circle cx="498.5" cy="105.5" r="8.85" fill="#000"/><circle cx="518.5" cy="105.5" r="8.85" fill="#000"/><circle cx="358.5" cy="125.5" r="8.85" fill="#000"/><circle cx="418.5" cy="125.5" r="8.85" fill="#000"/><circle cx="438.5" cy="125.5" r="8.85" fill="#000"/><circle cx="518.5" cy="125.5" r="8.85" fill="#000"/><circle cx="238.5" cy="185.5" r="8.85" fill="#000"/><circle cx="298.5" cy="185.5" r="8.85" fill="#000"/><circle cx="378.5" cy="185.5" r="8.85" fill="#000"/><circle cx="398.5" cy="225.5" r="8.85" fill="#000"/><circle cx="438.5" cy="225.5" r="8.85" fill="#000"/><circle cx="258.5" cy="245.5" r="8.85" fill="#000"/><circle cx="278.5" cy="245.5" r="8.85" fill="#000"/><circle cx="298.5" cy="245.5" r="8.85" fill="#000"/><circle cx="218.5" cy="265.5" r="8.85" fill="#000"/><circle cx="238.5" cy="265.5" r="8.85" fill="#000"/><circle cx="298.5" cy="265.5" r="8.85" fill="#000"/><circle cx="358.5" cy="265.5" r="8.85" fill="#000"/><circle cx="418.5" cy="265.5" r="8.85" fill="#000"/><circle cx="438.5" cy="265.5" r="8.85" fill="#000"/><circle cx="238.5" cy="285.5" r="8.85" fill="#000"/><circle cx="258.5" cy="285.5" r="8.85" fill="#000"/><circle cx="298.5" cy="285.5" r="8.85" fill="#000"/><circle cx="358.5" cy="285.5" r="8.85" fill="#000"/><circle cx="378.5" cy="285.5" r="8.85" fill="#000"/><circle cx="438.5" cy="285.5" r="8.85" fill="#000"/><circle cx="518.5" cy="285.5" r="8.85" fill="#000"/><circle cx="238.5" cy="305.5" r="8.85" fill="#000"/><circle cx="298.5" cy="305.5" r="8.85" fill="#000"/><circle cx="358.5" cy="305.5" r="8.85" fill="#000"/><circle cx="398.5" cy="305.5" r="8.85" fill="#000"/><circle cx="418.5" cy="305.5" r="8.85" fill="#000"/><circle cx="438.5" cy="305.5" r="8.85" fill="#000"/><circle cx="498.5" cy="305.5" r="8.85" fill="#000"/><circle cx="238.5" cy="325.5" r="8.85" fill="#000"/><circle cx="258.5" cy="325.5" r="8.85" fill="#000"/><circle cx="278.5" cy="325.5" r="8.85" fill="#000"/><circle cx="298.5" cy="325.5" r="8.85" fill="#000"/><circle cx="358.5" cy="325.5" r="8.85" fill="#000"/><circle cx="378.5" cy="325.5" r="8.85" fill="#000"/><circle cx="398.5" cy="325.5" r="8.85" fill="#000"/><circle cx="218.5" cy="345.5" r="8.85" fill="#000"/><circle cx="238.5" cy="345.5" r="8.85" fill="#000"/><circle cx="238.5" cy="365.5" r="8.85" fill="#000"/><circle cx="258.5" cy="365.5" r="8.85" fill="#000"/><circle cx="278.5" cy="365.5" r="8.85" fill="#000"/><circle cx="298.5" cy="365.5" r="8.85" fill="#000"/><circle cx="358.5" cy="385.5" r="8.85" fill="#000"/><circle cx="398.5" cy="385.5" r="8.85" fill="#000"/><circle cx="418.5" cy="385.5" r="8.85" fill="#000"/><circle cx="438.5" cy="385.5" r="8.85" fill="#000"/><circle cx="258.5" cy="445.5" r="8.85" fill="#000"/><circle cx="278.5" cy="445.5" r="8.85" fill="#000"/><circle cx="298.5" cy="445.5" r="8.85" fill="#000"/><circle cx="358.5" cy="445.5" r="8.85" fill="#000"/><circle cx="378.5" cy="445.5" r="8.85" fill="#000"/><circle cx="398.5" cy="445.5" r="8.85" fill="#000"/><circle cx="438.5" cy="445.5" r="8.85" fill="#000"/><circle cx="218.5" cy="505.5" r="8.85" fill="#000"/><circle cx="238.5" cy="505.5" r="8.85" fill="#000"/><circle cx="258.5" cy="505.5" r="8.85" fill="#000"/><circle cx="278.5" cy="505.5" r="8.85" fill="#000"/><circle cx="298.5" cy="505.5" r="8.85" fill="#000"/><circle cx="358.5" cy="505.5" r="8.85" fill="#000"/><circle cx="378.5" cy="505.5" r="8.85" fill="#000"/><circle cx="398.5" cy="505.5" r="8.85" fill="#000"/><circle cx="418.5" cy="505.5" r="8.85" fill="#000"/><circle cx="438.5" cy="505.5" r="8.85" fill="#000"/><circle cx="498.5" cy="505.5" r="8.85" fill="#000"/><circle cx="238.5" cy="645.5" r="8.85" fill="#000"/><circle cx="258.5" cy="645.5" r="8.85" fill="#000"/><circle cx="278.5" cy="645.5" r="8.85" fill="#000"/><circle cx="298.5" cy="645.5" r="8.85" fill="#000"/><circle cx="358.5" cy="645.5" r="8.85" fill="#000"/><circle cx="438.5" cy="645.5" r="8.85" fill="#000"/><circle cx="218.5" cy="685.5" r="8.85" fill="#000"/><circle cx="258.5" cy="685.5" r="8.85" fill="#000"/><circle cx="278.5" cy="685.5" r="8.85" fill="#000"/><circle cx="298.5" cy="685.5" r="8.85" fill="#000"/><circle cx="358.5" cy="685.5" r="8.85" fill="#000"/><circle cx="438.5" cy="685.5" r="8.85" fill="#000"/><circle cx="498.5" cy="65.5" r="8.85" fill="#000"/><circle cx="518.5" cy="65.5" r="8.85" fill="#000"/><circle cx="638.5" cy="145.5" r="8.85" fill="#000"/><circle cx="638.5" cy="185.5" r="8.85" fill="#000"/><circle cx="618.5" cy="625.5" r="8.85" fill="#000"/><circle cx="618.5" cy="665.5" r="8.85" fill="#000"/>
<circle cx="358.5" cy="105.5" r="3.1" fill="#fff"/>
<circle cx="358.5" cy="125.5" r="3.1" fill="#fff"/>
<circle cx="298.5" cy="185.5" r="3.1" fill="#fff"/>
<circle cx="298.5" cy="245.5" r="3.1" fill="#fff"/>
<g fill="#1a9fe6"><rect x="293.8" y="261.1" width="9.4" height="8.8"/><rect x="293.8" y="281.1" width="9.4" height="8.8"/><rect x="293.8" y="301.1" width="9.4" height="8.8"/><rect x="293.8" y="321.1" width="9.4" height="8.8"/><rect x="353.8" y="261.1" width="9.4" height="8.8"/><rect x="353.8" y="281.1" width="9.4" height="8.8"/><rect x="353.8" y="301.1" width="9.4" height="8.8"/><rect x="353.8" y="321.1" width="9.4" height="8.8"/></g>
<rect x="303.0" y="255.7" width="52.5" height="80.7" rx="1.6" fill="#848484" stroke="#707070" stroke-width="0.8"/>
<path d="M321.8 256.1A7.4 7.4 0 0 0 336.6 256.1Z" fill="#707070"/>
<text transform="translate(334.8 321.3) rotate(-90)" font-family="Liberation Sans, sans-serif" font-size="14" fill="#efefef" textLength="50.6" lengthAdjust="spacingAndGlyphs">LM393N</text>
<path d="M358.5 385.5L278.5 505.5" stroke="#9c9c9c" stroke-width="4.8" stroke-linecap="round" fill="none"/><path d="M358.5 385.5L278.5 505.5" stroke="#d0d0d0" stroke-width="3.5" stroke-linecap="round" fill="none"/>
<g transform="translate(318.5 445.5) rotate(33.69)"><path d="M0 -30C6 -30 10.6 -26 10.6 -20.3C10.6 -16.8 9.6 -14.8 8.8 -13.2L8.8 13.2C9.6 14.8 10.6 16.8 10.6 20.3C10.6 26 6 30 0 30C-6 30 -10.6 26 -10.6 20.3C-10.6 16.8 -9.6 14.8 -8.8 13.2L-8.8 -13.2C-9.6 -14.8 -10.6 -16.8 -10.6 -20.3C-10.6 -26 -6 -30 0 -30Z" fill="#84c9f8" stroke="#66aee2" stroke-width="0.8"/><rect x="-7.3" y="11.10" width="14.6" height="2.4" fill="#8a5a2b"/><rect x="-7.3" y="6.85" width="14.6" height="1.9" fill="#111111"/><rect x="-7.3" y="2.20" width="14.6" height="1.6" fill="#111111"/><rect x="-7.3" y="-2.65" width="14.6" height="1.5" fill="#e02020"/><text transform="rotate(-90) translate(-3.0 5.9) scale(0.92 1)" font-family="Liberation Sans, sans-serif" font-size="14" fill="#000">R6</text></g>
<path d="M238.5 305.5C258.7 289.8 362.7 306.2 358.5 445.5" stroke="#08c408" stroke-width="8.6" stroke-linecap="round" fill="none"/>
<path d="M238.5 305.5C258.7 289.8 362.7 306.2 358.5 445.5" stroke="#0aee0a" stroke-width="7.199999999999999" stroke-linecap="round" fill="none"/>
<path d="M249 329.4L249 364L238.6 366.9Q222.8 362.4 219.2 346Q222.8 329.6 238.6 325.1Z" fill="#808080"/>
<circle cx="238.5" cy="325.5" r="3.4" fill="#1a9fe6"/><circle cx="238.5" cy="345.5" r="3.4" fill="#1a9fe6"/><circle cx="238.5" cy="365.5" r="3.4" fill="#1a9fe6"/>
<text x="224.8" y="351.3" font-family="Liberation Sans, sans-serif" font-size="14.5" fill="#ffffff">T2</text>
<circle cx="398.5" cy="105.5" r="2.9" fill="none" stroke="#6a6a6a" stroke-width="0.8"/><circle cx="398.5" cy="225.5" r="2.9" fill="none" stroke="#6a6a6a" stroke-width="0.8"/>
<path d="M398.5 105.5L398.5 225.5" stroke="#000" stroke-width="5" stroke-linecap="round" fill="none"/>
<circle cx="418.5" cy="125.5" r="2.9" fill="none" stroke="#6a6a6a" stroke-width="0.8"/><circle cx="418.5" cy="265.5" r="2.9" fill="none" stroke="#6a6a6a" stroke-width="0.8"/>
<path d="M418.5 125.5L418.5 265.5" stroke="#c81818" stroke-width="5" stroke-linecap="round" fill="none"/>
<path d="M418.5 125.5L418.5 265.5" stroke="#f23a3a" stroke-width="3.4" stroke-linecap="round" fill="none"/>
<circle cx="438.5" cy="105.5" r="2.9" fill="none" stroke="#6a6a6a" stroke-width="0.8"/><circle cx="498.5" cy="105.5" r="2.9" fill="none" stroke="#6a6a6a" stroke-width="0.8"/>
<path d="M438.5 105.5L498.5 105.5" stroke="#000" stroke-width="5" stroke-linecap="round" fill="none"/>
<circle cx="438.5" cy="125.5" r="2.9" fill="none" stroke="#6a6a6a" stroke-width="0.8"/><circle cx="518.5" cy="125.5" r="2.9" fill="none" stroke="#6a6a6a" stroke-width="0.8"/>
<path d="M438.5 125.5L518.5 125.5" stroke="#b80808" stroke-width="5" stroke-linecap="round" fill="none"/>
<path d="M438.5 125.5L518.5 125.5" stroke="#ee1111" stroke-width="3.4" stroke-linecap="round" fill="none"/>
<circle cx="498.5" cy="65.5" r="2.9" fill="none" stroke="#6a6a6a" stroke-width="0.8"/><circle cx="498.5" cy="105.5" r="2.9" fill="none" stroke="#6a6a6a" stroke-width="0.8"/>
<path d="M498.5 65.5L498.5 105.5" stroke="#000" stroke-width="5" stroke-linecap="round" fill="none"/>
<circle cx="518.5" cy="65.5" r="2.9" fill="none" stroke="#6a6a6a" stroke-width="0.8"/><circle cx="518.5" cy="105.5" r="2.9" fill="none" stroke="#6a6a6a" stroke-width="0.8"/>
<path d="M518.5 65.5L518.5 105.5" stroke="#b80808" stroke-width="5" stroke-linecap="round" fill="none"/>
<path d="M518.5 65.5L518.5 105.5" stroke="#ee1111" stroke-width="3.4" stroke-linecap="round" fill="none"/>
<circle cx="438.5" cy="505.5" r="2.9" fill="none" stroke="#6a6a6a" stroke-width="0.8"/><circle cx="498.5" cy="505.5" r="2.9" fill="none" stroke="#6a6a6a" stroke-width="0.8"/>
<path d="M438.5 505.5L498.5 505.5" stroke="#000" stroke-width="4.4" stroke-linecap="round" fill="none"/>
<path d="M219.4 265.5L219.4 345.5" stroke="#b4aa00" stroke-width="4.8" stroke-linecap="round" fill="none"/>
<path d="M219.4 265.5L219.4 345.5" stroke="#fff200" stroke-width="3.1999999999999997" stroke-linecap="round" fill="none"/>
<path d="M278.5 245.5L278.5 325.5" stroke="#b4aa00" stroke-width="4.8" stroke-linecap="round" fill="none"/>
<path d="M278.5 245.5L278.5 325.5" stroke="#fff200" stroke-width="3.1999999999999997" stroke-linecap="round" fill="none"/>
<path d="M258.5 445.5L258.5 505.5" stroke="#b4aa00" stroke-width="4.8" stroke-linecap="round" fill="none"/>
<path d="M258.5 445.5L258.5 505.5" stroke="#fff200" stroke-width="3.1999999999999997" stroke-linecap="round" fill="none"/>
<path d="M238.5 185.5L238.5 265.5" stroke="#9c9c9c" stroke-width="4.8" stroke-linecap="round" fill="none"/><path d="M238.5 185.5L238.5 265.5" stroke="#d0d0d0" stroke-width="3.5" stroke-linecap="round" fill="none"/>
<g transform="translate(238.5 225.5) rotate(0.00)"><path d="M0 -30C6 -30 10.6 -26 10.6 -20.3C10.6 -16.8 9.6 -14.8 8.8 -13.2L8.8 13.2C9.6 14.8 10.6 16.8 10.6 20.3C10.6 26 6 30 0 30C-6 30 -10.6 26 -10.6 20.3C-10.6 16.8 -9.6 14.8 -8.8 13.2L-8.8 -13.2C-9.6 -14.8 -10.6 -16.8 -10.6 -20.3C-10.6 -26 -6 -30 0 -30Z" fill="#84c9f8" stroke="#66aee2" stroke-width="0.8"/><rect x="-7.3" y="-13.50" width="14.6" height="2.4" fill="#f2ee3c"/><rect x="-7.3" y="-8.75" width="14.6" height="1.9" fill="#8a3fd0"/><rect x="-7.3" y="-3.80" width="14.6" height="1.6" fill="#111111"/><rect x="-7.3" y="1.15" width="14.6" height="1.5" fill="#8a5a2b"/><text transform="rotate(-90) translate(-14.5 5.9) scale(0.92 1)" font-family="Liberation Sans, sans-serif" font-size="14" fill="#000">R8</text></g>
<path d="M638.5 145.5C456.7 136.1 270.1 143.0 238.5 285.5" stroke="#a4a4a4" stroke-width="8.0" stroke-linecap="round" fill="none"/>
<path d="M638.5 145.5C456.7 136.1 270.1 143.0 238.5 285.5" stroke="#ffffff" stroke-width="6.2" stroke-linecap="round" fill="none"/>
<path d="M258.5 245.5L258.5 285.5" stroke="#9c9c9c" stroke-width="4.8" stroke-linecap="round" fill="none"/><path d="M258.5 245.5L258.5 285.5" stroke="#d0d0d0" stroke-width="3.5" stroke-linecap="round" fill="none"/>
<ellipse cx="258.5" cy="265.5" rx="12.3" ry="15" fill="#f1ea94" stroke="#d6d084" stroke-width="0.9"/><text transform="translate(258.5 265.5) rotate(-90) translate(-0.8 5.9) scale(0.95 1)" text-anchor="middle" font-family="Liberation Sans, sans-serif" font-size="14" fill="#000">C10</text>
<path d="M378.5 185.5L378.5 285.5" stroke="#9c9c9c" stroke-width="4.8" stroke-linecap="round" fill="none"/><path d="M378.5 185.5L378.5 285.5" stroke="#d0d0d0" stroke-width="3.5" stroke-linecap="round" fill="none"/>
<g transform="translate(378.5 235.5) rotate(0.00)"><path d="M0 -30C6 -30 10.6 -26 10.6 -20.3C10.6 -16.8 9.6 -14.8 8.8 -13.2L8.8 13.2C9.6 14.8 10.6 16.8 10.6 20.3C10.6 26 6 30 0 30C-6 30 -10.6 26 -10.6 20.3C-10.6 16.8 -9.6 14.8 -8.8 13.2L-8.8 -13.2C-9.6 -14.8 -10.6 -16.8 -10.6 -20.3C-10.6 -26 -6 -30 0 -30Z" fill="#84c9f8" stroke="#66aee2" stroke-width="0.8"/><rect x="-7.3" y="11.10" width="14.6" height="2.4" fill="#8a5a2b"/><rect x="-7.3" y="6.85" width="14.6" height="1.9" fill="#111111"/><rect x="-7.3" y="2.20" width="14.6" height="1.6" fill="#111111"/><rect x="-7.3" y="-2.65" width="14.6" height="1.5" fill="#111111"/><text transform="rotate(-90) translate(-13.899999999999999 5.9) scale(0.92 1)" font-family="Liberation Sans, sans-serif" font-size="14" fill="#000">R13</text></g>
<path d="M438.5 225.5L438.5 265.5" stroke="#9c9c9c" stroke-width="4.8" stroke-linecap="round" fill="none"/><path d="M438.5 225.5L438.5 265.5" stroke="#d0d0d0" stroke-width="3.5" stroke-linecap="round" fill="none"/>
<ellipse cx="438.5" cy="245.5" rx="12.3" ry="15" fill="#f1ea94" stroke="#d6d084" stroke-width="0.9"/><text transform="translate(438.5 245.5) rotate(-90) translate(-0.8 5.9) scale(0.95 1)" text-anchor="middle" font-family="Liberation Sans, sans-serif" font-size="14" fill="#000">C11</text>
<path d="M518.5 285.5L438.5 285.5" stroke="#9c9c9c" stroke-width="4.8" stroke-linecap="round" fill="none"/><path d="M518.5 285.5L438.5 285.5" stroke="#d0d0d0" stroke-width="3.5" stroke-linecap="round" fill="none"/>
<g transform="translate(478.5 285.5) rotate(90.00)"><path d="M0 -30C6 -30 10.6 -26 10.6 -20.3C10.6 -16.8 9.6 -14.8 8.8 -13.2L8.8 13.2C9.6 14.8 10.6 16.8 10.6 20.3C10.6 26 6 30 0 30C-6 30 -10.6 26 -10.6 20.3C-10.6 16.8 -9.6 14.8 -8.8 13.2L-8.8 -13.2C-9.6 -14.8 -10.6 -16.8 -10.6 -20.3C-10.6 -26 -6 -30 0 -30Z" fill="#84c9f8" stroke="#66aee2" stroke-width="0.8"/><rect x="-7.3" y="-13.50" width="14.6" height="2.4" fill="#f2ee3c"/><rect x="-7.3" y="-8.75" width="14.6" height="1.9" fill="#8a3fd0"/><rect x="-7.3" y="-3.80" width="14.6" height="1.6" fill="#111111"/><rect x="-7.3" y="1.15" width="14.6" height="1.5" fill="#8a5a2b"/><text transform="rotate(-90) translate(-14.399999999999999 5.9) scale(0.92 1)" font-family="Liberation Sans, sans-serif" font-size="14" fill="#000">R12</text></g>
<path d="M498.5 305.5L438.5 305.5" stroke="#9c9c9c" stroke-width="4.8" stroke-linecap="round" fill="none"/><path d="M498.5 305.5L438.5 305.5" stroke="#d0d0d0" stroke-width="3.5" stroke-linecap="round" fill="none"/>
<g transform="translate(468.5 305.5) rotate(90.00)"><path d="M0 -30C6 -30 10.6 -26 10.6 -20.3C10.6 -16.8 9.6 -14.8 8.8 -13.2L8.8 13.2C9.6 14.8 10.6 16.8 10.6 20.3C10.6 26 6 30 0 30C-6 30 -10.6 26 -10.6 20.3C-10.6 16.8 -9.6 14.8 -8.8 13.2L-8.8 -13.2C-9.6 -14.8 -10.6 -16.8 -10.6 -20.3C-10.6 -26 -6 -30 0 -30Z" fill="#84c9f8" stroke="#66aee2" stroke-width="0.8"/><rect x="-7.3" y="11.10" width="14.6" height="2.4" fill="#8a5a2b"/><rect x="-7.3" y="6.85" width="14.6" height="1.9" fill="#111111"/><rect x="-7.3" y="2.20" width="14.6" height="1.6" fill="#111111"/><rect x="-7.3" y="-2.65" width="14.6" height="1.5" fill="#e8b830"/><text transform="rotate(-90) translate(-12.2 5.9) scale(0.92 1)" font-family="Liberation Sans, sans-serif" font-size="14" fill="#000">R11</text></g>
<path d="M258.5 325.5L258.5 365.5" stroke="#9c9c9c" stroke-width="4.8" stroke-linecap="round" fill="none"/><path d="M258.5 325.5L258.5 365.5" stroke="#d0d0d0" stroke-width="3.5" stroke-linecap="round" fill="none"/>
<ellipse cx="258.5" cy="345.5" rx="12.3" ry="15" fill="#f1ea94" stroke="#d6d084" stroke-width="0.9"/><text transform="translate(258.5 345.5) rotate(-90) translate(-0.8 5.9) scale(0.95 1)" text-anchor="middle" font-family="Liberation Sans, sans-serif" font-size="14" fill="#000">C7</text>
<path d="M278.5 365.5L278.5 445.5" stroke="#9c9c9c" stroke-width="4.8" stroke-linecap="round" fill="none"/><path d="M278.5 365.5L278.5 445.5" stroke="#d0d0d0" stroke-width="3.5" stroke-linecap="round" fill="none"/>
<g transform="translate(278.5 405.5) rotate(0.00)"><path d="M0 -30C6 -30 10.6 -26 10.6 -20.3C10.6 -16.8 9.6 -14.8 8.8 -13.2L8.8 13.2C9.6 14.8 10.6 16.8 10.6 20.3C10.6 26 6 30 0 30C-6 30 -10.6 26 -10.6 20.3C-10.6 16.8 -9.6 14.8 -8.8 13.2L-8.8 -13.2C-9.6 -14.8 -10.6 -16.8 -10.6 -20.3C-10.6 -26 -6 -30 0 -30Z" fill="#84c9f8" stroke="#66aee2" stroke-width="0.8"/><rect x="-7.3" y="-13.50" width="14.6" height="2.4" fill="#f2ee3c"/><rect x="-7.3" y="-8.75" width="14.6" height="1.9" fill="#8a3fd0"/><rect x="-7.3" y="-3.80" width="14.6" height="1.6" fill="#111111"/><rect x="-7.3" y="1.15" width="14.6" height="1.5" fill="#111111"/><text transform="rotate(-90) translate(-14.5 5.9) scale(0.92 1)" font-family="Liberation Sans, sans-serif" font-size="14" fill="#000">R4</text></g>
<path d="M298.5 365.5L298.5 445.5" stroke="#9c9c9c" stroke-width="4.8" stroke-linecap="round" fill="none"/><path d="M298.5 365.5L298.5 445.5" stroke="#d0d0d0" stroke-width="3.5" stroke-linecap="round" fill="none"/>
<g transform="translate(298.5 405.5) rotate(0.00)"><path d="M0 -30C6 -30 10.6 -26 10.6 -20.3C10.6 -16.8 9.6 -14.8 8.8 -13.2L8.8 13.2C9.6 14.8 10.6 16.8 10.6 20.3C10.6 26 6 30 0 30C-6 30 -10.6 26 -10.6 20.3C-10.6 16.8 -9.6 14.8 -8.8 13.2L-8.8 -13.2C-9.6 -14.8 -10.6 -16.8 -10.6 -20.3C-10.6 -26 -6 -30 0 -30Z" fill="#84c9f8" stroke="#66aee2" stroke-width="0.8"/><rect x="-7.3" y="-13.50" width="14.6" height="2.4" fill="#f2ee3c"/><rect x="-7.3" y="-8.75" width="14.6" height="1.9" fill="#8a3fd0"/><rect x="-7.3" y="-3.80" width="14.6" height="1.6" fill="#111111"/><rect x="-7.3" y="1.15" width="14.6" height="1.5" fill="#111111"/><text transform="rotate(-90) translate(-14.5 5.9) scale(0.92 1)" font-family="Liberation Sans, sans-serif" font-size="14" fill="#000">R5</text></g>
<path d="M378.5 325.5L378.5 445.5" stroke="#9c9c9c" stroke-width="4.8" stroke-linecap="round" fill="none"/><path d="M378.5 325.5L378.5 445.5" stroke="#d0d0d0" stroke-width="3.5" stroke-linecap="round" fill="none"/>
<g transform="translate(378.5 385.5) rotate(0.00)"><path d="M0 -30C6 -30 10.6 -26 10.6 -20.3C10.6 -16.8 9.6 -14.8 8.8 -13.2L8.8 13.2C9.6 14.8 10.6 16.8 10.6 20.3C10.6 26 6 30 0 30C-6 30 -10.6 26 -10.6 20.3C-10.6 16.8 -9.6 14.8 -8.8 13.2L-8.8 -13.2C-9.6 -14.8 -10.6 -16.8 -10.6 -20.3C-10.6 -26 -6 -30 0 -30Z" fill="#84c9f8" stroke="#66aee2" stroke-width="0.8"/><rect x="-7.3" y="-13.50" width="14.6" height="2.4" fill="#f2ee3c"/><rect x="-7.3" y="-8.75" width="14.6" height="1.9" fill="#8a3fd0"/><rect x="-7.3" y="-3.80" width="14.6" height="1.6" fill="#111111"/><rect x="-7.3" y="1.15" width="14.6" height="1.5" fill="#e02020"/><text transform="rotate(-90) translate(-14.5 5.9) scale(0.92 1)" font-family="Liberation Sans, sans-serif" font-size="14" fill="#000">R9</text></g>
<path d="M398.5 305.5L398.5 445.5" stroke="#9c9c9c" stroke-width="4.8" stroke-linecap="round" fill="none"/><path d="M398.5 305.5L398.5 445.5" stroke="#d0d0d0" stroke-width="3.5" stroke-linecap="round" fill="none"/>
<g transform="translate(398.5 375.5) rotate(0.00)"><path d="M0 -30C6 -30 10.6 -26 10.6 -20.3C10.6 -16.8 9.6 -14.8 8.8 -13.2L8.8 13.2C9.6 14.8 10.6 16.8 10.6 20.3C10.6 26 6 30 0 30C-6 30 -10.6 26 -10.6 20.3C-10.6 16.8 -9.6 14.8 -8.8 13.2L-8.8 -13.2C-9.6 -14.8 -10.6 -16.8 -10.6 -20.3C-10.6 -26 -6 -30 0 -30Z" fill="#84c9f8" stroke="#66aee2" stroke-width="0.8"/><rect x="-7.3" y="11.10" width="14.6" height="2.4" fill="#8a5a2b"/><rect x="-7.3" y="6.85" width="14.6" height="1.9" fill="#111111"/><rect x="-7.3" y="2.20" width="14.6" height="1.6" fill="#111111"/><rect x="-7.3" y="-2.65" width="14.6" height="1.5" fill="#84c9f8"/><text transform="rotate(-90) translate(-14.5 5.9) scale(0.92 1)" font-family="Liberation Sans, sans-serif" font-size="14" fill="#000">R10</text></g>
<path d="M438.5 385.5L438.5 445.5" stroke="#9c9c9c" stroke-width="4.8" stroke-linecap="round" fill="none"/><path d="M438.5 385.5L438.5 445.5" stroke="#d0d0d0" stroke-width="3.5" stroke-linecap="round" fill="none"/>
<g transform="translate(438.5 415.5) rotate(0.00)"><path d="M0 -30C6 -30 10.6 -26 10.6 -20.3C10.6 -16.8 9.6 -14.8 8.8 -13.2L8.8 13.2C9.6 14.8 10.6 16.8 10.6 20.3C10.6 26 6 30 0 30C-6 30 -10.6 26 -10.6 20.3C-10.6 16.8 -9.6 14.8 -8.8 13.2L-8.8 -13.2C-9.6 -14.8 -10.6 -16.8 -10.6 -20.3C-10.6 -26 -6 -30 0 -30Z" fill="#84c9f8" stroke="#66aee2" stroke-width="0.8"/><rect x="-7.3" y="-13.50" width="14.6" height="2.4" fill="#e8b830"/><rect x="-7.3" y="-8.75" width="14.6" height="1.9" fill="#1030e0"/><rect x="-7.3" y="-3.80" width="14.6" height="1.6" fill="#111111"/><rect x="-7.3" y="1.15" width="14.6" height="1.5" fill="#111111"/><text transform="rotate(-90) translate(-14.5 5.9) scale(0.92 1)" font-family="Liberation Sans, sans-serif" font-size="14" fill="#000">R7</text></g>
<path d="M418.5 305.5L418.5 385.5" stroke="#9c9c9c" stroke-width="4.8" stroke-linecap="round" fill="none"/><path d="M418.5 305.5L418.5 385.5" stroke="#d0d0d0" stroke-width="3.5" stroke-linecap="round" fill="none"/>
<ellipse cx="418.5" cy="345.5" rx="12.2" ry="14.6" fill="#f1ea94" stroke="#d6d084" stroke-width="0.9"/><text transform="translate(418.5 345.5) rotate(-90) translate(-0.8 5.9) scale(0.95 1)" text-anchor="middle" font-family="Liberation Sans, sans-serif" font-size="14" fill="#000">C9</text>
<path d="M398.5 325.5L398.5 385.5" stroke="#9c9c9c" stroke-width="4.8" stroke-linecap="round" fill="none"/><path d="M398.5 325.5L398.5 385.5" stroke="#d0d0d0" stroke-width="3.5" stroke-linecap="round" fill="none"/>
<circle cx="398.9" cy="354.9" r="19.4" fill="#6a70d4"/>
<path d="M383.74 367A19.4 19.4 0 0 0 414.06 367Z" fill="#8d9fee"/>
<rect x="397.0" y="370.0" width="3.8" height="1.4" fill="#fff"/>
<text transform="translate(398.9 354.9) rotate(-90)" x="-2.1" y="5.8" text-anchor="middle" font-family="Liberation Sans, sans-serif" font-size="14" fill="#f4f4ff">C8</text>
<path d="M418.5 305.5L418.5 385.5" stroke="#9c9c9c" stroke-width="4.8" stroke-linecap="round" fill="none"/><path d="M418.5 305.5L418.5 385.5" stroke="#d0d0d0" stroke-width="3.5" stroke-linecap="round" fill="none"/>
<ellipse cx="418.5" cy="345.5" rx="12.2" ry="14.6" fill="#f1ea94" stroke="#d6d084" stroke-width="0.9"/><text transform="translate(418.5 345.5) rotate(-90) translate(-0.8 5.9) scale(0.95 1)" text-anchor="middle" font-family="Liberation Sans, sans-serif" font-size="14" fill="#000">C9</text>
<path d="M218.5 505.5L218.5 685.5" stroke="#9c9c9c" stroke-width="4.8" stroke-linecap="round" fill="none"/><path d="M218.5 505.5L218.5 685.5" stroke="#d0d0d0" stroke-width="3.5" stroke-linecap="round" fill="none"/>
<g transform="translate(218.5 595.5) rotate(90.00)"><rect x="-20.8" y="-8.8" width="41.6" height="17.6" fill="#ececec" stroke="#8a8f98" stroke-width="0.9"/><rect x="-14.6" y="-6.6" width="33.2" height="13.2" fill="#e8672b"/><rect x="-20.8" y="-8.8" width="6.6" height="17.6" fill="#7f7f84"/><text transform="rotate(180)" x="0.4" y="5.9" text-anchor="middle" font-family="Liberation Sans, sans-serif" font-size="14" fill="#fff3cf">D3</text></g>
<path d="M238.5 505.5L238.5 645.5" stroke="#9c9c9c" stroke-width="4.8" stroke-linecap="round" fill="none"/><path d="M238.5 505.5L238.5 645.5" stroke="#d0d0d0" stroke-width="3.5" stroke-linecap="round" fill="none"/>
<g transform="translate(238.5 575.5) rotate(90.00)"><rect x="-20.8" y="-8.8" width="41.6" height="17.6" fill="#ececec" stroke="#8a8f98" stroke-width="0.9"/><rect x="-14.6" y="-6.6" width="33.2" height="13.2" fill="#e8672b"/><rect x="-20.8" y="-8.8" width="6.6" height="17.6" fill="#7f7f84"/><text transform="rotate(180)" x="0.4" y="5.9" text-anchor="middle" font-family="Liberation Sans, sans-serif" font-size="14" fill="#fff3cf">D1</text></g>
<path d="M298.5 505.5L358.5 505.5" stroke="#9c9c9c" stroke-width="4.8" stroke-linecap="round" fill="none"/><path d="M298.5 505.5L358.5 505.5" stroke="#d0d0d0" stroke-width="3.5" stroke-linecap="round" fill="none"/>
<g transform="translate(328.5 505.5) rotate(0.00)"><rect x="-20.8" y="-8.8" width="41.6" height="17.6" fill="#ececec" stroke="#8a8f98" stroke-width="0.9"/><rect x="-14.6" y="-6.6" width="33.2" height="13.2" fill="#e8672b"/><rect x="-20.8" y="-8.8" width="6.6" height="17.6" fill="#7f7f84"/><text transform="" x="-0.4" y="5.9" text-anchor="middle" font-family="Liberation Sans, sans-serif" font-size="14" fill="#fff3cf">D5</text></g>
<path d="M398.5 505.5L398.5 445.5" stroke="#9c9c9c" stroke-width="4.8" stroke-linecap="round" fill="none"/><path d="M398.5 505.5L398.5 445.5" stroke="#d0d0d0" stroke-width="3.5" stroke-linecap="round" fill="none"/>
<g transform="translate(398.5 475.5) rotate(-90.00)"><rect x="-20.8" y="-8.8" width="41.6" height="17.6" fill="#ececec" stroke="#8a8f98" stroke-width="0.9"/><rect x="-14.6" y="-6.6" width="33.2" height="13.2" fill="#e8672b"/><rect x="-20.8" y="-8.8" width="6.6" height="17.6" fill="#7f7f84"/><text transform="" x="-0.4" y="5.9" text-anchor="middle" font-family="Liberation Sans, sans-serif" font-size="14" fill="#fff3cf">D6</text></g>
<path d="M278.5 645.5L278.5 685.5" stroke="#9c9c9c" stroke-width="4.8" stroke-linecap="round" fill="none"/><path d="M278.5 645.5L278.5 685.5" stroke="#d0d0d0" stroke-width="3.5" stroke-linecap="round" fill="none"/>
<ellipse cx="278.5" cy="665.5" rx="12.6" ry="15.2" fill="#efea7c" stroke="#d6d084" stroke-width="0.9"/><text transform="translate(278.5 665.5) rotate(-90) translate(-0.8 5.9) scale(0.95 1)" text-anchor="middle" font-family="Liberation Sans, sans-serif" font-size="14" fill="#000">C5</text>
<path d="M258.5 645.5L378.5 505.5" stroke="#9c9c9c" stroke-width="4.8" stroke-linecap="round" fill="none"/><path d="M258.5 645.5L378.5 505.5" stroke="#d0d0d0" stroke-width="3.5" stroke-linecap="round" fill="none"/>
<g transform="translate(318.5 575.5) rotate(-49.40)"><rect x="-20.8" y="-8.8" width="41.6" height="17.6" fill="#ececec" stroke="#8a8f98" stroke-width="0.9"/><rect x="-14.6" y="-6.6" width="33.2" height="13.2" fill="#e8672b"/><rect x="-20.8" y="-8.8" width="6.6" height="17.6" fill="#7f7f84"/><text transform="" x="-0.4" y="5.9" text-anchor="middle" font-family="Liberation Sans, sans-serif" font-size="14" fill="#fff3cf">D2</text></g>
<path d="M258.5 685.5L418.5 505.5" stroke="#9c9c9c" stroke-width="4.8" stroke-linecap="round" fill="none"/><path d="M258.5 685.5L418.5 505.5" stroke="#d0d0d0" stroke-width="3.5" stroke-linecap="round" fill="none"/>
<g transform="translate(338.5 595.5) rotate(-48.37)"><rect x="-20.8" y="-8.8" width="41.6" height="17.6" fill="#ececec" stroke="#8a8f98" stroke-width="0.9"/><rect x="-14.6" y="-6.6" width="33.2" height="13.2" fill="#e8672b"/><rect x="-20.8" y="-8.8" width="6.6" height="17.6" fill="#7f7f84"/><text transform="" x="-0.4" y="5.9" text-anchor="middle" font-family="Liberation Sans, sans-serif" font-size="14" fill="#fff3cf">D4</text></g>
<path d="M298.5 645.5Q300.5 639.9 304.5 639.9C305.0 648.3 316.0 648.3 316.5 639.9C317.0 648.3 328.0 648.3 328.5 639.9C329.0 648.3 340.0 648.3 340.5 639.9C341.0 648.3 352.0 648.3 352.5 639.9Q356.5 639.9 358.5 645.5" stroke="#1c1cd0" stroke-width="1.1" fill="none"/>
<circle cx="298.5" cy="645.5" r="1.8" fill="#fff"/><circle cx="358.5" cy="645.5" r="1.8" fill="#fff"/>
<text x="319.8" y="636.1" font-family="Liberation Sans, sans-serif" font-size="14" fill="#000">L1</text>
<path d="M298.5 685.5Q300.5 679.9 304.5 679.9C305.0 688.3 316.0 688.3 316.5 679.9C317.0 688.3 328.0 688.3 328.5 679.9C329.0 688.3 340.0 688.3 340.5 679.9C341.0 688.3 352.0 688.3 352.5 679.9Q356.5 679.9 358.5 685.5" stroke="#1c1cd0" stroke-width="1.1" fill="none"/>
<circle cx="298.5" cy="685.5" r="1.8" fill="#fff"/><circle cx="358.5" cy="685.5" r="1.8" fill="#fff"/>
<text x="319.8" y="676.1" font-family="Liberation Sans, sans-serif" font-size="14" fill="#000">L2</text>
<path d="M438.5 185.5C524.4 185.9 550.8 224.9 638.5 185.5" stroke="#0606ee" stroke-width="9.0" stroke-linecap="round" fill="none"/>
<path d="M438.5 645.5C530.3 646.8 569.9 662.5 618.5 625.5" stroke="#08c408" stroke-width="9.3" stroke-linecap="round" fill="none"/>
<path d="M438.5 645.5C530.3 646.8 569.9 662.5 618.5 625.5" stroke="#0aee0a" stroke-width="7.9" stroke-linecap="round" fill="none"/>
<path d="M438.5 685.5C530.3 686.8 569.9 702.5 618.5 665.5" stroke="#08c408" stroke-width="9.3" stroke-linecap="round" fill="none"/>
<path d="M438.5 685.5C530.3 686.8 569.9 702.5 618.5 665.5" stroke="#0aee0a" stroke-width="7.9" stroke-linecap="round" fill="none"/>
</g>
<g font-family="Liberation Sans, sans-serif" font-size="13" fill="#000"><text x="463.6" y="50.7" textLength="27.2" lengthAdjust="spacingAndGlyphs">GND</text><text x="525" y="50.7" textLength="26" lengthAdjust="spacingAndGlyphs">3.3V</text><text x="648.7" y="150.6" textLength="16.1" lengthAdjust="spacingAndGlyphs">TX</text><text x="648.7" y="190.7" textLength="17.4" lengthAdjust="spacingAndGlyphs">RX</text><text x="611.4" y="650" textLength="51.4" lengthAdjust="spacingAndGlyphs">EMS bus</text></g>
<g font-family="Liberation Sans, sans-serif" font-size="13.8" fill="#000"><text transform="translate(17.5 804.8) scale(0.972 1)">Breadboard</text><text transform="translate(185.6 804.8) scale(0.972 1)">qty 1</text><text transform="translate(280 804.8) scale(0.972 1)">C11</text><text transform="translate(449 804.8) scale(0.972 1)">100nF</text><text transform="translate(541 804.8) scale(0.972 1)">R7</text><text transform="translate(710 804.8) scale(0.972 1)">360Ω</text><text transform="translate(17.5 820.8) scale(0.972 1)">C5</text><text transform="translate(185.6 820.8) scale(0.972 1)">68pF</text><text transform="translate(280 820.8) scale(0.972 1)" word-spacing="1.3">D1, D2, D3, D4, D5, D6</text><text transform="translate(449 820.8) scale(0.972 1)">BAT46</text><text transform="translate(541 820.8) scale(0.972 1)" word-spacing="1.3">R8, R12</text><text transform="translate(710 820.8) scale(0.972 1)">4.7K</text><text transform="translate(17.5 836.8) scale(0.972 1)">C7</text><text transform="translate(185.6 836.8) scale(0.972 1)">1.5nF</text><text transform="translate(280 836.8) scale(0.972 1)" word-spacing="1.3">L1, L2</text><text transform="translate(449 836.8) scale(0.972 1)">4.7uH</text><text transform="translate(541 836.8) scale(0.972 1)">R9</text><text transform="translate(710 836.8) scale(0.972 1)">47K</text><text transform="translate(17.5 852.8) scale(0.972 1)">C8</text><text transform="translate(185.6 852.8) scale(0.972 1)">10uF</text><text transform="translate(280 852.8) scale(0.972 1)">LM393N</text><text transform="translate(449 852.8) scale(0.972 1)">qty 1</text><text transform="translate(541 852.8) scale(0.972 1)">R11</text><text transform="translate(710 852.8) scale(0.972 1)">100K</text><text transform="translate(17.5 868.8) scale(0.972 1)">C9</text><text transform="translate(185.6 868.8) scale(0.972 1)">1nF</text><text transform="translate(280 868.8) scale(0.972 1)" word-spacing="1.3">R4, R5</text><text transform="translate(449 868.8) scale(0.972 1)">470Ω</text><text transform="translate(541 868.8) scale(0.972 1)">R13</text><text transform="translate(710 868.8) scale(0.972 1)">100Ω</text><text transform="translate(17.5 884.8) scale(0.972 1)">C10</text><text transform="translate(185.6 884.8) scale(0.972 1)">10nF</text><text transform="translate(280 884.8) scale(0.972 1)" word-spacing="1.3">R6, R10</text><text transform="translate(449 884.8) scale(0.972 1)">10K</text><text transform="translate(541 884.8) scale(0.972 1)">T2</text><text transform="translate(710 884.8) scale(0.972 1)">BC547N</text></g>
</svg>
</body></html>
